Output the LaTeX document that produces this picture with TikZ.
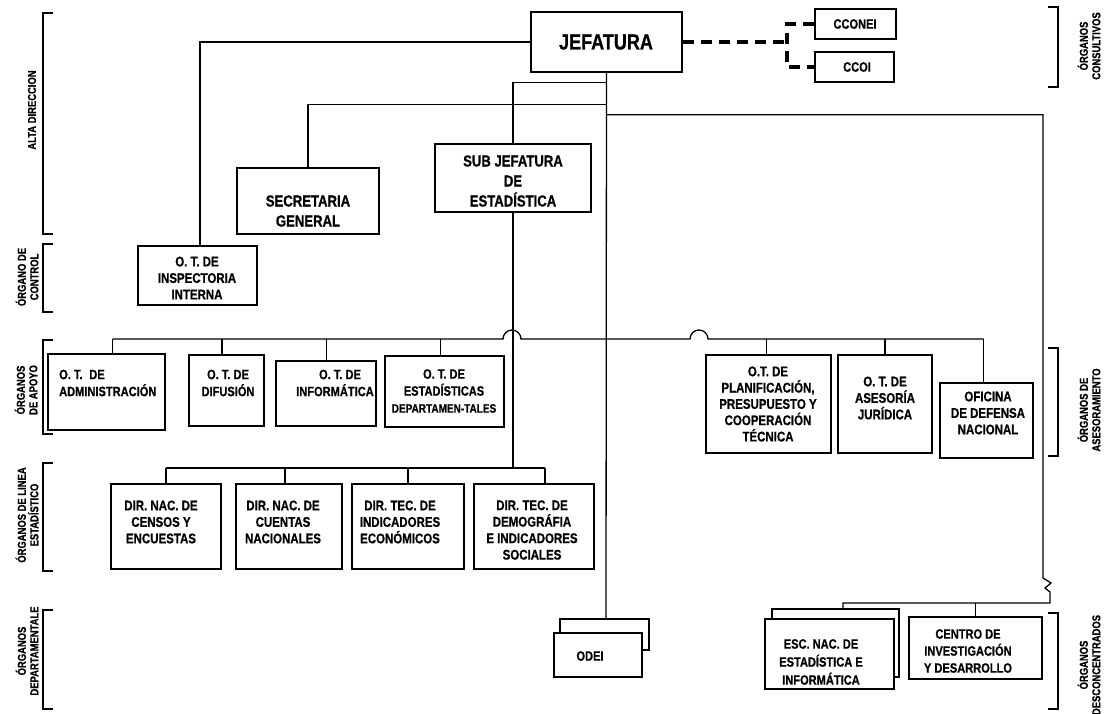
\documentclass[tikz,border=0pt]{standalone}
\usepackage{fontspec}
\setmainfont{Liberation Sans}[FakeStretch=0.82, BoldFeatures={FakeBold=0.7}]
\usetikzlibrary{fit}
\newcommand\obox[5]{\node[obx, fit={(#2,#3) (#4,#5)}] (#1) {};}
\begin{document}
\begin{tikzpicture}[x=1pt,y=-1pt,
  obx/.style={draw, line width=1.6pt, inner sep=0pt},
  conn/.style={line width=1.3pt},
  dsh/.style={line width=3.2pt, dash pattern=on 11pt off 7pt},
  brk/.style={line width=1.7pt},
  txt/.style={inner sep=0pt, align=center, font=\bfseries\fontsize{14}{16.5}\selectfont},
  txa/.style={txt, font=\bfseries\fontsize{13.5}{17}\selectfont},
  txb/.style={txt, font=\bfseries\fontsize{16}{20}\selectfont},
  lab/.style={inner sep=0pt, align=center, rotate=90, font=\bfseries\fontsize{11.5}{12.5}\selectfont}]
\useasboundingbox (0,0) rectangle (1104,713);

% ---------- boxes ----------
\obox{jef}{531}{12}{682}{72}
\obox{cconei}{815}{9}{896}{39}
\obox{ccoi}{815}{52}{894}{82}
\obox{sec}{237}{168}{379}{234}
\obox{sub}{435}{144}{591}{212}
\obox{insp}{138}{246}{257}{305}
\obox{adm}{48}{354}{165}{430}
\obox{dif}{189}{355}{264}{426}
\obox{inf}{276}{361}{376}{426}
\obox{est}{385}{356}{504}{427}
\obox{plan}{706}{355}{831}{453}
\obox{ases}{838}{355}{932}{453}
\obox{ofi}{940}{383}{1033}{458}
\obox{cen}{111}{484}{221}{569}
\obox{cue}{236}{484}{342}{569}
\obox{eco}{352}{484}{464}{569}
\obox{dem}{474}{484}{594}{569}
\obox{odei}{554}{633}{642}{677}
\obox{esc}{765}{619}{894}{689}
\obox{cid}{909}{617}{1042}{679}

% stacked back boxes
\draw[obx] (560,633) -- (560,619) -- (649,619) -- (649,650) -- (642,650);
\draw[obx] (772,619) -- (772,609) -- (899,609) -- (899,677) -- (894,677);
\coordinate (odeiB) at (606,619);
\coordinate (escB) at (843,609);

% ---------- texts ----------
\node[txt, font=\bfseries\fontsize{22}{24}\selectfont] (tjef) at (606,42) {JEFATURA};
\node[txa] (tcconei) at (855,24) {CCONEI};
\node[txa] (tccoi) at (857,67) {CCOI};
\node[txb] (tsec) at (308,211) {SECRETARIA\\GENERAL};
\node[txb] (tsub) at (513,181) {SUB JEFATURA\\DE\\ESTADÍSTICA};
\node[txt] (tinsp) at (197,278) {O. T. DE\\INSPECTORIA\\INTERNA};
\node[txa, anchor=west, align=left] (tadm) at (59,383) {O. T.\enspace DE\\ADMINISTRACIÓN};
\node[txa] (tdif) at (228,383) {O. T. DE\\DIFUSIÓN};
\node[txa] (tinf) at (335,383) {\hspace*{10pt}O. T. DE\\INFORMÁTICA};
\node[txa] (test) at (444,391) {O. T. DE\\ESTADÍSTICAS\\{\fontsize{12.2}{17}\selectfont DEPARTAMEN-TALES}};
\node[txt, font=\bfseries\fontsize{14}{16.3}\selectfont] (tplan) at (768,404) {O.T. DE\\PLANIFICACIÓN,\\PRESUPUESTO Y\\COOPERACIÓN\\TÉCNICA};
\node[txt] (tases) at (885,398) {O. T. DE\\ASESORÍA\\JURÍDICA};
\node[txt] (tofi) at (988,413) {OFICINA\\DE DEFENSA\\NACIONAL};
\node[txt] (tcen) at (161,522) {DIR. NAC. DE\\CENSOS Y\\ENCUESTAS};
\node[txt] (tcue) at (283,522) {DIR. NAC. DE\\CUENTAS\\NACIONALES};
\node[txt] (teco) at (400,522) {DIR. TEC. DE\\INDICADORES\\ECONÓMICOS};
\node[txt] (tdem) at (532,530) {DIR. TEC. DE\\DEMOGRÁFIA\\E INDICADORES\\SOCIALES};
\node[txa] (todei) at (590,656) {ODEI};
\node[txa, font=\bfseries\fontsize{13.5}{18}\selectfont] (tesc) at (821,662) {ESC. NAC. DE\\ESTADÍSTICA E\\INFORMÁTICA};
\node[txa] (tcid) at (968,651) {CENTRO DE\\INVESTIGACIÓN\\Y DESARROLLO};

% ---------- connectors ----------
\draw[conn] (jef.west) -| ([xshift=2.5pt]insp.north);
\draw[conn] (jef.south) -- (odeiB);
\draw[conn] ([yshift=-10pt]jef.south) -| (sub.north);
\draw[conn] ([yshift=-32pt]jef.south) -| (sec.north);
\coordinate (rz1) at (1043,578);
\coordinate (rz2) at (1050,603);
\draw[conn] ([yshift=-42pt]jef.south) -| (rz1) -- (1051,583) -- (1045,588) -- (1050,592) -- (rz2) -- (escB |- rz2) -- (escB);
\draw[conn] (cid.north) -- (cid.north |- rz2);

% apoyo / asesoramiento bus
\coordinate (apL) at (112.5,339);
\coordinate (apR) at (983.6,339);
\draw[conn] (apL) -- (503,339) arc[start angle=180, end angle=0, radius=9pt] -- (690,339) arc[start angle=180, end angle=0, radius=9pt] -- (apR);
\draw[conn] ([xshift=6pt]adm.north) -- ([xshift=6pt]adm.north |- apL);
\draw[conn] ([xshift=-4.6pt]dif.north) -- ([xshift=-4.6pt]dif.north |- apL);
\draw[conn] ([xshift=0.8pt]inf.north) -- ([xshift=0.8pt]inf.north |- apL);
\draw[conn] ([xshift=-4pt]est.north) -- ([xshift=-4pt]est.north |- apL);
\draw[conn] ([xshift=-1.7pt]plan.north) -- ([xshift=-1.7pt]plan.north |- apL);
\draw[conn] (ases.north) -- (ases.north |- apL);
\draw[conn] ([xshift=-3pt]ofi.north) -- ([xshift=-3pt]ofi.north |- apL);

% linea bus
\coordinate (lnL) at (166,468);
\coordinate (lnR) at (545,468);
\draw[conn] (sub.south) -- (sub.south |- lnL);
\draw[conn] (lnL) -- (lnR);
\draw[conn] (cen.north) -- (cen.north |- lnL);
\draw[conn] ([xshift=-4pt]cue.north) -- ([xshift=-4pt]cue.north |- lnL);
\draw[conn] (eco.north) -- (eco.north |- lnL);
\draw[conn] (dem.north -| lnR) -- (lnR);

% consultivos (dashed)
\coordinate (dj) at (787,42);
\draw[dsh] (jef.east) -- (dj);
\draw[dsh] (cconei.west) -- (787,24) -- (787,67) -- (ccoi.west);

% ---------- brackets ----------
\draw[brk] (53,13) -- (43,13) -- (43,234) -- (53,234);
\draw[brk] (53,244) -- (43,244) -- (43,312) -- (53,312);
\draw[brk] (53,340) -- (43,340) -- (43,434) -- (53,434);
\draw[brk] (53,463) -- (43,463) -- (43,571) -- (53,571);
\draw[brk] (53,610) -- (43,610) -- (43,709) -- (53,709);
\draw[brk] (1048,7) -- (1058,7) -- (1058,87) -- (1048,87);
\draw[brk] (1048,348) -- (1058,348) -- (1058,456) -- (1048,456);
\draw[brk] (1048,613) -- (1058,613) -- (1058,709) -- (1048,709);

% ---------- side labels ----------
\node[lab] (lalta) at (32,110) {ALTA DIRECCION};
\node[lab] (lctrl) at (27,277) {ÓRGANO DE\\CONTROL};
\node[lab] (lapoyo) at (26,390) {ÓRGANOS\\DE APOYO};
\node[lab] (llinea) at (27,515) {ÓRGANOS DE LINEA\\ESTADÍSTICO};
\node[lab] (ldep) at (27,651) {ÓRGANOS\\DEPARTAMENTALE};
\node[lab] (lcons) at (1089,46) {ÓRGANOS\\CONSULTIVOS};
\node[lab] (lases) at (1089,410) {ÓRGANOS DE\\ASESORAMIENTO};
\node[lab] (ldesc) at (1089,665) {ÓRGANOS\\DESCONCENTRADOS};
\end{tikzpicture}
\end{document}
